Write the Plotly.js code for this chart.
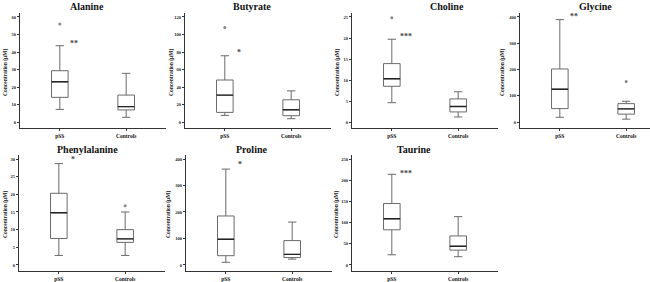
<!DOCTYPE html>
<html>
<head>
<meta charset="utf-8">
<script src="https://cdn.plot.ly/plotly-3.0.1.min.js"></script>
<style>html,body{margin:0;padding:0;background:#fff;}#chart{width:650px;height:282px;}</style>
</head>
<body>
<div id="chart"></div>
<script>
// ---- data ----
const metabolites = ['Alanine','Butyrate','Choline','Glycine','Phenylalanine','Proline','Taurine'];
const groups = ['pSS','Controls'];
const pssLower  = [7.2, 7.6, 4.6, 18, 2.7, 10, 24];
const pssQ1     = [14.1, 11, 8.5, 51, 7.5, 35, 83];
const pssMedian = [23, 30.7, 10.3, 125, 14.8, 97, 109];
const pssQ3     = [29.3, 48, 13.9, 202, 20.3, 185, 145];
const pssUpper  = [43.6, 75.7, 19.7, 390, 28.7, 362, 214];
const ctrlLower  = [2.7, 3.8, 1.2, 11, 2.7, 22, 19.5];
const ctrlQ1     = [6.9, 7.2, 2.4, 30, 6.4, 28, 35];
const ctrlMedian = [8.8, 14, 3.7, 50, 7.4, 40, 44];
const ctrlQ3     = [15.4, 25.4, 5.5, 70, 10, 92, 68.5];
const ctrlUpper  = [27.8, 35.6, 7.2, 79, 15, 162, 114];
const outlierPanel = ['Alanine','Butyrate','Choline','Glycine','Phenylalanine'];
const outlierGroup = ['pSS','pSS','pSS','Controls','Controls'];
const outlierValue = [56, 108, 24.8, 154, 16.8];
const sigLabels = ['**','*','***','**','*','*','***'];
const sigY = [45, 80, 20.3, 400, 29.8, 381, 217];
const yTickTop = [60, 120, 25, 400, 30, 400, 250];
const yTickStep = [10, 20, 5, 100, 5, 100, 50];
const yTitle = 'Concentration (µM)';

// ---- layout (pixels) ----
const W = 650, H = 282;
const panelLeft = [20, 185, 352, 520, 19, 186, 352];
const panelRow  = [0, 0, 0, 0, 1, 1, 1];
const panelWidth = 146;
const rowTop = [13, 155], rowBottom = [128, 271];
const titleX = [87, 252, 447, 595, 87.5, 252, 414];
const titleY = [7, 149];
const yTitleX = [5, 171, 337, 502, 5, 168, 336];
const yTitleY = [73, 215];
const pxPerCat = panelWidth / 2.2;

const serif = 'Liberation Serif, Times New Roman, serif';
const lineCol = '#333';
const boxCol = '#6a6a6a';

const traces = [];
const layout = {
  width: W, height: H, margin: {l:0, r:0, t:0, b:0},
  paper_bgcolor: '#fff', plot_bgcolor: '#fff', showlegend: false,
  annotations: []
};

metabolites.forEach((m, i) => {
  const k = i + 1;
  const xa = 'x' + (k === 1 ? '' : k), ya = 'y' + (k === 1 ? '' : k);
  const xKey = 'xaxis' + (k === 1 ? '' : k), yKey = 'yaxis' + (k === 1 ? '' : k);
  const row = panelRow[i];
  const left = panelLeft[i];
  let right = left + panelWidth;
  let rmax = 1.6;
  if (right > W) { rmax = -0.6 + (W - left) / pxPerCat; right = W; }
  const T = yTickTop[i];

  traces.push({
    type: 'box', x: groups,
    q1: [pssQ1[i], ctrlQ1[i]], median: [pssMedian[i], ctrlMedian[i]], q3: [pssQ3[i], ctrlQ3[i]],
    lowerfence: [pssLower[i], ctrlLower[i]], upperfence: [pssUpper[i], ctrlUpper[i]],
    xaxis: xa, yaxis: ya, width: 0.25, whiskerwidth: 0.5,
    line: {color: boxCol, width: 1}, fillcolor: 'rgba(255,255,255,1)',
    boxpoints: false, hoverinfo: 'skip', showlegend: false
  });
  // darker median line
  traces.push({
    type: 'box', x: groups,
    q1: [pssMedian[i], ctrlMedian[i]], median: [pssMedian[i], ctrlMedian[i]], q3: [pssMedian[i], ctrlMedian[i]],
    lowerfence: [pssMedian[i], ctrlMedian[i]], upperfence: [pssMedian[i], ctrlMedian[i]],
    xaxis: xa, yaxis: ya, width: 0.25, whiskerwidth: 0,
    line: {color: '#222', width: 1.4}, fillcolor: 'rgba(0,0,0,0)',
    boxpoints: false, hoverinfo: 'skip', showlegend: false
  });
  const ox = [], oy = [];
  outlierPanel.forEach((p, j) => { if (p === m) { ox.push(outlierGroup[j]); oy.push(outlierValue[j]); } });
  if (ox.length) {
    traces.push({type: 'scatter', mode: 'markers', x: ox, y: oy, xaxis: xa, yaxis: ya,
      marker: {size: 3, color: '#888'}, hoverinfo: 'skip', showlegend: false});
  }

  layout[xKey] = {
    domain: [left / W, right / W], type: 'category', categoryarray: groups, categoryorder: 'array',
    range: [-0.6, rmax], showline: true, linecolor: lineCol, linewidth: 1,
    ticks: 'outside', ticklen: 2, tickwidth: 1, tickcolor: lineCol,
    showgrid: false, zeroline: false, anchor: ya, fixedrange: true,
    tickfont: {family: serif, size: 5.5, color: '#111', weight: 'bold'}
  };
  layout[yKey] = {
    domain: [1 - rowBottom[row] / H, 1 - rowTop[row] / H],
    range: [-0.057 * T, 1.038 * T], tick0: 0, dtick: yTickStep[i],
    showline: true, linecolor: lineCol, linewidth: 1,
    ticks: 'outside', ticklen: 2, tickwidth: 1, tickcolor: lineCol,
    showgrid: false, zeroline: false, anchor: xa, fixedrange: true,
    tickfont: {family: serif, size: 4.5, color: '#222', weight: 'bold'}
  };

  layout.annotations.push({
    xref: 'paper', yref: 'paper', x: titleX[i] / W, y: 1 - titleY[row] / H,
    xanchor: 'center', yanchor: 'middle', showarrow: false, text: m,
    font: {family: serif, size: 10, color: '#111', weight: 'bold'}
  });
  layout.annotations.push({
    xref: 'paper', yref: 'paper', x: yTitleX[i] / W, y: 1 - yTitleY[row] / H,
    xanchor: 'center', yanchor: 'middle', showarrow: false, text: yTitle, textangle: -90,
    font: {family: serif, size: 5.5, color: '#111', weight: 'bold'}
  });
  layout.annotations.push({
    xref: xa, yref: ya, x: 0.21, y: sigY[i], xanchor: 'center', yanchor: 'middle',
    showarrow: false, text: sigLabels[i],
    font: {family: serif, size: 8, color: '#444', weight: 'bold'}
  });
});

Plotly.newPlot('chart', traces, layout, {staticPlot: true, displayModeBar: false});
</script>
</body>
</html>
